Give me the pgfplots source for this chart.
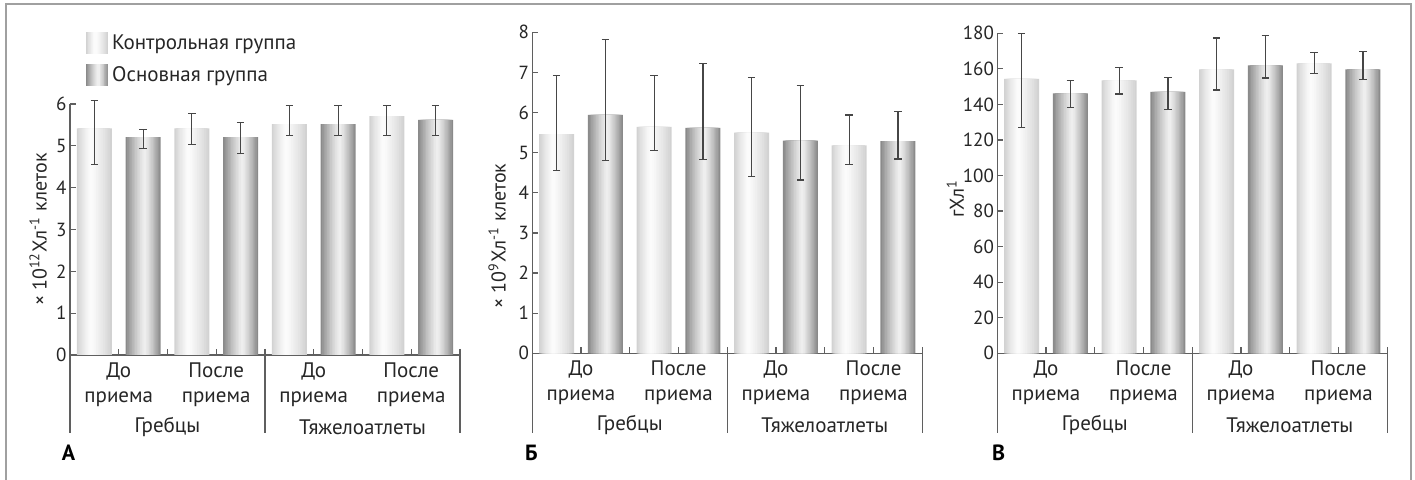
\documentclass[border=0pt]{standalone}
\usepackage{fontspec}
\setmainfont{PT Sans}
\usepackage{pgfplots}
\pgfplotsset{compat=1.18}
\usepackage{pgfplotstable}
\definecolor{axc}{RGB}{95,95,95}
\definecolor{errc}{RGB}{70,70,70}
\definecolor{framec}{RGB}{160,160,160}
\definecolor{lE}{RGB}{210,210,210}
\definecolor{lC}{RGB}{251,251,251}
\definecolor{dE}{RGB}{138,138,138}
\definecolor{dC}{RGB}{238,238,238}

% panel A
\pgfplotstableread{
x y ep em
0.5 5.42 0.66 0.87
2.5 5.42 0.35 0.38
4.5 5.52 0.45 0.28
6.5 5.71 0.26 0.47
}\actrl
\pgfplotstableread{
x y ep em
1.5 5.21 0.18 0.28
3.5 5.21 0.35 0.39
5.5 5.52 0.45 0.28
7.5 5.62 0.35 0.38
}\amain
% panel B
\pgfplotstableread{
x y ep em
0.5 5.46 1.46 0.90
2.5 5.64 1.28 0.58
4.5 5.50 1.37 1.10
6.5 5.18 0.76 0.47
}\bctrl
\pgfplotstableread{
x y ep em
1.5 5.94 1.88 1.14
3.5 5.62 1.60 0.79
5.5 5.30 1.37 0.98
7.5 5.29 0.73 0.45
}\bmain
% panel V
\pgfplotstableread{
x y ep em
0.5 154.3 25.7 27.2
2.5 153.5 7.3 7.7
4.5 159.7 17.6 11.6
6.5 163.1 6.0 5.8
}\cctrl
\pgfplotstableread{
x y ep em
1.5 146.2 7.3 7.9
3.5 147.1 7.9 9.9
5.5 162.0 16.6 7.2
7.5 159.7 10.0 5.6
}\cmain

\pgfplotsset{
  panel/.style={
    scale only axis, width=195pt, xmin=0, xmax=8, ymin=0,
    axis x line*=bottom, axis y line*=left,
    axis line style={draw=axc, line width=0.6pt},
    tick style={draw=axc, line width=0.6pt},
    tick align=inside, major tick length=3pt,
    xtick={1,...,7},
    xticklabels={{До\\приема},,{После\\приема},,{До\\приема},,{После\\приема}},
    xticklabel style={align=center, font=\fontsize{10.5}{12.5}\selectfont, inner sep=0pt, yshift=-3.5pt, text=black!85},
    yticklabel style={font=\fontsize{9.5}{11}\selectfont, inner sep=1.5pt, text=black!85},
    /pgf/number format/assume math mode=true,
    clip=false,
    every axis y label/.style={rotate=90, anchor=center, font=\fontsize{10}{12}\selectfont, text=black!85},
  },
  eb/.style={error bars/.cd, y dir=both, y explicit,
    error bar style={draw=errc, line width=0.6pt},
    error mark options={rotate=90, mark size=1.9pt, draw=errc, line width=0.6pt}},
}

\newcommand\onelayer[4]{\addplot[ybar, bar shift=#3, bar width=#2, draw=none, fill=#4, forget plot] table[x=x,y=y]{#1};}
\newcommand\errlayer[1]{\addplot[ybar, bar shift=0pt, bar width=17.5pt, draw=none, fill=none, forget plot, eb] table[x=x, y=y, y error plus=ep, y error minus=em]{#1};}
\newcommand\lightbars[1]{%
  \onelayer{#1}{17.5pt}{0pt}{lE}
  \onelayer{#1}{16.042pt}{-0.146pt}{lC!12!lE}
  \onelayer{#1}{14.583pt}{-0.292pt}{lC!23!lE}
  \onelayer{#1}{13.125pt}{-0.4375pt}{lC!33!lE}
  \onelayer{#1}{11.667pt}{-0.583pt}{lC!43!lE}
  \onelayer{#1}{10.208pt}{-0.729pt}{lC!53!lE}
  \onelayer{#1}{8.75pt}{-0.875pt}{lC!62!lE}
  \onelayer{#1}{7.292pt}{-1.021pt}{lC!71!lE}
  \onelayer{#1}{5.833pt}{-1.167pt}{lC!79!lE}
  \onelayer{#1}{4.375pt}{-1.3125pt}{lC!87!lE}
  \onelayer{#1}{2.917pt}{-1.458pt}{lC!94!lE}
  \onelayer{#1}{1.458pt}{-1.604pt}{lC}
  \errlayer{#1}}
\newcommand\darkbars[1]{%
  \onelayer{#1}{17.5pt}{0pt}{dE}
  \onelayer{#1}{16.042pt}{0.073pt}{dC!12!dE}
  \onelayer{#1}{14.583pt}{0.146pt}{dC!23!dE}
  \onelayer{#1}{13.125pt}{0.219pt}{dC!33!dE}
  \onelayer{#1}{11.667pt}{0.292pt}{dC!43!dE}
  \onelayer{#1}{10.208pt}{0.365pt}{dC!53!dE}
  \onelayer{#1}{8.75pt}{0.4375pt}{dC!62!dE}
  \onelayer{#1}{7.292pt}{0.51pt}{dC!71!dE}
  \onelayer{#1}{5.833pt}{0.583pt}{dC!79!dE}
  \onelayer{#1}{4.375pt}{0.656pt}{dC!87!dE}
  \onelayer{#1}{2.917pt}{0.729pt}{dC!94!dE}
  \onelayer{#1}{1.458pt}{0.802pt}{dC}
  \errlayer{#1}}
% legend swatch: #1 edge, #2 centre, #3 peak offset (pt)
\newcommand\swatch[3]{%
  \foreach \f/\p in {1/0,0.9167/12,0.8333/23,0.75/33,0.6667/43,0.5833/53,0.5/62,0.4167/71,0.3333/79,0.25/87,0.1667/94,0.0833/100}{%
    \fill[#2!\p!#1] ({5.25pt+#3*(1-\f)-5.25pt*\f},-5.25pt) rectangle ({5.25pt+#3*(1-\f)+5.25pt*\f},5.25pt);}}

\newcommand\groupdeco[1]{%
  \draw[axc, line width=0.6pt] (axis cs:0,0) -- ([yshift=-#1]axis cs:0,0);
  \draw[axc, line width=0.6pt] ([yshift=3pt]axis cs:4,0) -- ([yshift=-#1]axis cs:4,0);
  \draw[axc, line width=0.6pt] ([yshift=3pt]axis cs:8,0) -- ([yshift=-#1]axis cs:8,0);
  \node[font=\fontsize{10.5}{12}\selectfont, text=black!85] at ([yshift=-36pt]axis cs:2,0) {Гребцы};
  \node[font=\fontsize{10.5}{12}\selectfont, text=black!85] at ([yshift=-36pt]axis cs:6,0) {Тяжелоатлеты};
}

\begin{document}
\begin{tikzpicture}[x=1pt,y=1pt]
\useasboundingbox (0,0) rectangle (707.5,240);
\draw[framec, line width=1pt] (3,-1) -- (3,238) -- (705.5,238) -- (705.5,-1);

% ---------- A
\begin{axis}[panel, at={(35pt,62.5pt)}, anchor=south west,
  height=125.5pt, ymax=6, ytick={0,...,6},
  ylabel={× 10\textsuperscript{12}Хл\textsuperscript{-1} клеток},
  ylabel style={at={(axis description cs:-0.082,0.5)}},
  legend style={at={(rel axis cs:0.041,1.295)}, anchor=north west, draw=none, fill=none,
    inner sep=0pt, row sep=3pt, font=\fontsize{10.5}{12}\selectfont, text=black!85,
    cells={anchor=west}, nodes={inner sep=2pt}},
]
\addlegendimage{legend image code/.code={\swatch{lE}{lC}{-1.05pt}}}
\addlegendentry{Контрольная группа}
\addlegendimage{legend image code/.code={\swatch{dE}{dC}{0.5pt}}}
\addlegendentry{Основная группа}
\lightbars{\actrl}
\darkbars{\amain}
\groupdeco{39pt}
\end{axis}

% ---------- B
\begin{axis}[panel, at={(266.15pt,63.35pt)}, anchor=south west,
  height=160.5pt, ymax=8, ytick={0,...,8},
  ylabel={× 10\textsuperscript{9}Хл\textsuperscript{-1} клеток},
  ylabel style={at={(axis description cs:-0.09,0.365)}},
]
\lightbars{\bctrl}
\darkbars{\bmain}
\groupdeco{40pt}
\end{axis}

% ---------- V
\begin{axis}[panel, at={(498.65pt,63.35pt)}, anchor=south west,
  height=160pt, ymax=180, ytick={0,20,...,180},
  ylabel={гХл\textsuperscript{1}},
  ylabel style={at={(axis description cs:-0.108,0.484)}},
]
\lightbars{\cctrl}
\darkbars{\cmain}
\groupdeco{40pt}
\end{axis}

\node[font=\bfseries\fontsize{11}{12}\selectfont] at (34.25,13.5) {А};
\node[font=\bfseries\fontsize{11}{12}\selectfont] at (265.75,13.5) {Б};
\node[font=\bfseries\fontsize{11}{12}\selectfont] at (499.25,13.5) {В};
\end{tikzpicture}
\end{document}
